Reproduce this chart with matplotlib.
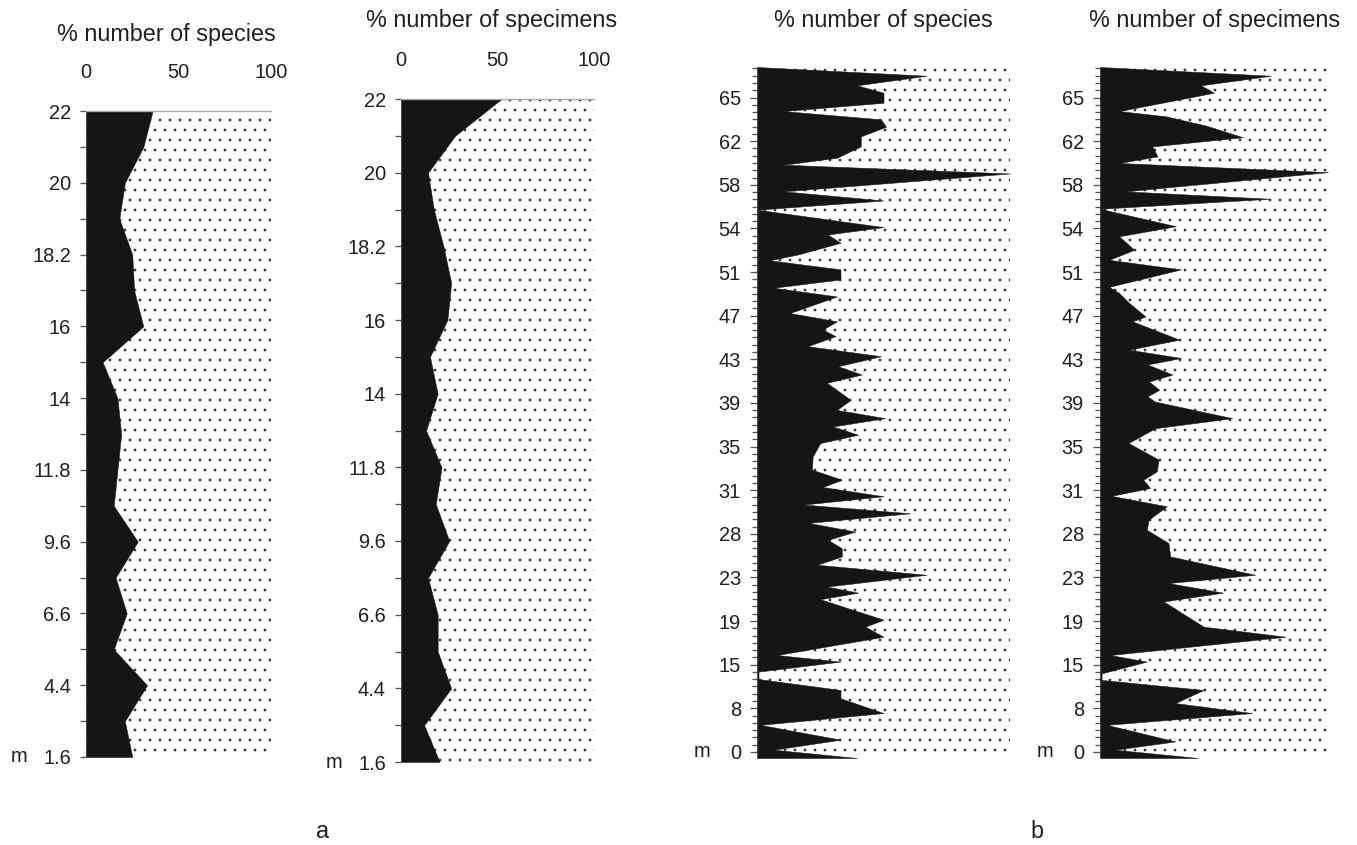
import matplotlib
matplotlib.use("Agg")
import matplotlib.pyplot as plt
from matplotlib.ticker import MultipleLocator

# ---------------- data ----------------
# section a: sample levels (evenly spaced sample positions, bottom -> top)
a_levels = [0, 0.5, 1, 1.5, 2, 2.5, 3, 3.5, 4, 4.5, 5, 5.5, 6, 6.5, 7, 7.5, 8, 8.5, 9]
a_labels = ["1.6", "4.4", "6.6", "9.6", "11.8", "14", "16", "18.2", "20", "22"]
a_species = [25, 21, 33, 15, 22, 16, 28, 15, 17, 19, 17, 9, 31, 26, 25, 18, 21, 31, 36]
a_specimens = [20, 12, 26, 19, 19, 14, 25, 18, 21, 13, 19, 15, 24, 26, 22, 17, 14, 28, 52]

# section b
b_labels = ["0", "8", "15", "19", "23", "28", "31", "35", "39", "43", "47", "51",
            "54", "58", "62", "65"]
b1_levels = [15.70, 15.50, 15.28, 15.11, 14.88, 14.69, 14.50, 14.33, 14.11, 13.88,
             13.62, 13.46, 13.26, 12.85, 12.64, 12.43, 12.03, 11.86, 11.67, 11.40,
             11.27, 11.06, 10.83, 10.64, 10.44, 10.06, 9.87, 9.68, 9.53, 9.30,
             9.07, 8.84, 8.65, 8.46, 8.07, 7.84, 7.65, 7.46, 7.27, 7.08,
             6.77, 6.47, 6.24, 6.07, 5.86, 5.67, 5.47, 5.25, 5.05, 4.86,
             4.67, 4.48, 4.29, 4.06, 3.79, 3.65, 3.50, 3.03, 2.87, 2.64,
             2.22, 2.07, 1.84, 1.67, 1.42, 1.23, 0.89, 0.62, 0.28, 0.05, -0.14]
b1_species = [0, 67, 39.5, 50, 50, 10.5, 49, 51, 41, 41,
              31.6, 10.5, 100, 10.5, 50, 0, 50, 28, 33, 16,
              5, 33, 33, 6.6, 31.6, 13, 31.6, 26, 31, 20,
              49, 32, 41.4, 27.6, 37, 31.6, 50.6, 30, 40, 25,
              22, 21.7, 33.5, 26, 50, 18.4, 60.5, 20.4, 38.8, 28,
              33.5, 33.5, 23.7, 67, 27.6, 40, 25, 50, 42.8, 50,
              7.9, 33, 0.6, 0.6, 33, 33, 50, 1.3, 33, 6.6, 39.5]

b2_levels = [15.70, 15.50, 15.28, 15.11, 14.69, 14.57, 14.35, 14.09, 13.88, 13.65,
             13.50, 13.29, 12.85, 12.68, 12.45, 12.05, 11.82, 11.51, 11.28, 11.06,
             10.66, 10.52, 10.29, 9.98, 9.87, 9.45, 9.22, 9.03, 8.88, 8.65,
             8.49, 8.30, 8.15, 8.03, 7.65, 7.42, 7.08, 6.70, 6.43, 6.24,
             6.05, 5.87, 5.63, 5.32, 5.09, 4.79, 4.48, 4.06, 3.87, 3.65,
             3.45, 3.18, 2.87, 2.64, 2.22, 2.07, 1.80, 1.65, 1.42, 1.12,
             0.89, 0.62, 0.24, 0.05, -0.14]
b2_specimens = [0, 75, 44.3, 50, 8.4, 28.9, 47, 62.6, 23, 25.2,
                8.4, 100, 11.3, 74.3, 0, 33.3, 8.4, 15, 4, 35.5,
                4, 8.4, 12.8, 20, 14.2, 34.8, 12.8, 35.5, 20.8, 31.8,
                21.5, 26, 20.8, 24.2, 58, 24.2, 12.5, 25.7, 24.9, 19,
                22, 5, 29.3, 21.3, 20.5, 30, 30.8, 68, 30, 54,
                27.9, 36, 45.5, 81.4, 4.4, 20.5, 0.7, 0.7, 45.5, 33,
                66.7, 3, 33, 6.6, 43]

titles = ["% number of species", "% number of specimens",
          "% number of species", "% number of specimens"]

# ---------------- style ----------------
DPI = 120
W, H = 1357, 845
plt.rcParams["font.family"] = ["Liberation Sans", "DejaVu Sans"]
plt.rcParams["hatch.linewidth"] = 0.45
BLACK = "#151515"
DOT = "#2b2b2b"
TXT = "#1f1f1f"
TICK = "#555555"


def pt(px):
    return px * 72.0 / DPI


fig = plt.figure(figsize=(W / DPI, H / DPI), dpi=DPI)


def rect(x0, x1, y0, y1):
    return [x0 / W, 1 - y1 / H, (x1 - x0) / W, (y1 - y0) / H]


def panel(r, levels, values, labels, ylim, minor, top_ticks, m_dx, maj_len, min_len):
    ax = fig.add_axes(r)
    ax.set_xlim(0, 100)
    ax.set_ylim(*ylim)
    ax.axvspan(0, 100, facecolor="white", edgecolor=DOT, hatch="..", lw=0, zorder=1)
    ax.fill_betweenx(levels, 0, values, facecolor=BLACK, edgecolor=BLACK, lw=0.3, zorder=2)
    for s in ["left", "right", "bottom", "top"]:
        ax.spines[s].set_visible(False)
    ax.set_yticks(range(len(labels)))
    ax.set_yticklabels(labels)
    ax.yaxis.set_minor_locator(MultipleLocator(minor))
    ax.tick_params(axis="y", which="major", direction="out", length=pt(maj_len),
                   width=0.8, color=TICK, labelsize=12, labelcolor=TXT, pad=pt(9))
    ax.tick_params(axis="y", which="minor", direction="out", length=pt(min_len),
                   width=0.8, color=TICK)
    if top_ticks:
        ax.spines["top"].set_visible(True)
        ax.spines["top"].set_color("#a9a9b8")
        ax.spines["top"].set_linewidth(0.8)
        ax.xaxis.tick_top()
        ax.set_xticks([0, 50, 100])
        ax.tick_params(axis="x", which="both", length=0, labelsize=12,
                       labelcolor=TXT, pad=pt(29))
    else:
        ax.set_xticks([])
    ax.annotate("m", xy=(0, 0), xycoords=ax.get_yaxis_transform(),
                xytext=(-pt(m_dx), 0), textcoords="offset points",
                ha="right", va="center", fontsize=12, color=TXT)
    return ax


panel(rect(86, 271, 111, 757), a_levels, a_species, a_labels, (0, 9), 0.5, True, 59, 6, 6)
panel(rect(401, 594, 99, 762), a_levels, a_specimens, a_labels, (0, 9), 0.5, True, 59, 6, 6)
panel(rect(757, 1010, 67, 758), b1_levels, b1_species, b_labels, (-0.14, 15.70), 1 / 6,
      False, 47, 7, 5)
panel(rect(1100, 1328, 67, 758), b2_levels, b2_specimens, b_labels, (-0.14, 15.70), 1 / 6,
      False, 47, 7, 5)

# titles
for (xc, yb), t in zip([(166, 41.5), (492, 27), (883, 27), (1215, 27)], titles):
    fig.text(xc / W, 1 - yb / H, t, ha="center", va="baseline", fontsize=14, color=TXT)

fig.text(323 / W, 1 - 838 / H, "a", ha="center", va="baseline", fontsize=14, color=TXT)
fig.text(1037 / W, 1 - 838 / H, "b", ha="center", va="baseline", fontsize=14, color=TXT)

fig.savefig("out.png", dpi=DPI, facecolor="white")
